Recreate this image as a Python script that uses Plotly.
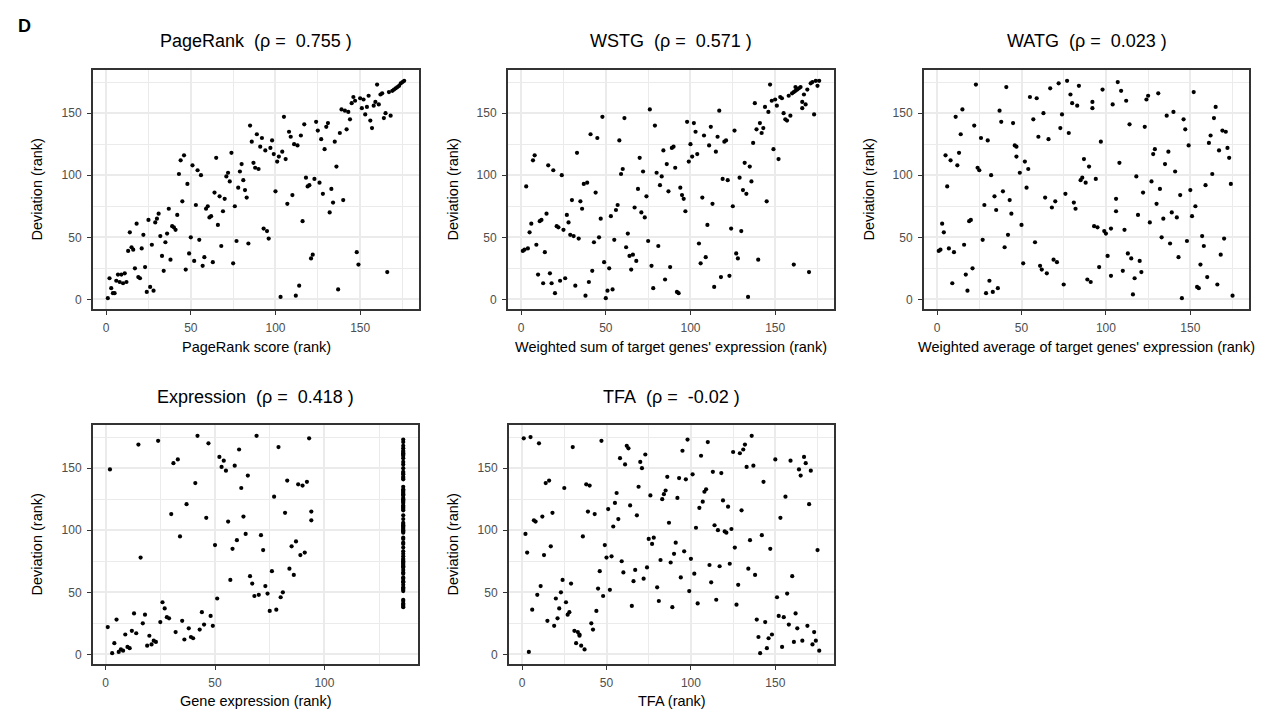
import plotly.graph_objects as go

# ---------------- data (ranks) ----------------
pagerank_x = [1,2,3,4,5,6,7,8,9,10,11,12,13,14,15,16,17,18,19,20,21,22,23,24,25,26,27,28,29,30,31,32,33,34,35,36,37,38,39,40,41,42,43,44,45,46,47,48,49,50,51,52,53,54,55,56,57,58,59,60,61,62,63,64,65,66,67,68,69,70,71,72,73,74,75,76,77,78,79,80,81,82,83,84,85,86,87,88,89,90,91,92,93,94,95,96,97,98,99,100,101,102,103,104,105,106,107,108,109,110,111,112,113,114,115,116,117,118,119,120,121,122,123,124,125,126,127,128,129,130,131,132,133,134,135,136,137,138,139,140,141,142,143,144,145,146,147,148,149,150,151,152,153,154,155,156,157,158,159,160,161,162,163,164,165,166,167,168,169,170,171,172,173,174,175,176]
pagerank_y = [1,17,9,5,5,15,20,14,20,13,21,14,39,54,42,40,25,61,18,17,41,52,26,6,64,10,44,7,62,65,69,51,35,23,46,53,73,32,59,58,56,68,101,112,79,116,24,93,37,50,108,31,76,104,48,100,27,34,73,75,66,67,30,86,114,60,83,43,71,81,99,102,95,118,29,75,47,90,103,109,96,88,82,45,140,127,110,106,133,105,123,130,57,120,55,49,122,128,117,87,111,115,2,119,147,113,77,135,131,84,125,3,124,11,132,63,141,98,91,92,33,36,97,143,136,94,129,85,121,139,142,70,89,78,127,107,8,134,153,80,152,137,151,145,158,163,160,38,28,162,154,161,149,155,164,144,138,156,159,173,157,165,166,146,150,22,167,148,168,169,170,171,172,174,175,176]

wstg_x = [1,2,3,4,5,6,7,8,9,10,11,12,13,14,15,16,17,18,19,20,21,22,23,24,25,26,27,28,29,30,31,32,33,34,35,36,37,38,39,40,41,42,43,44,45,46,47,48,49,50,51,52,53,54,55,56,57,58,59,60,61,62,63,64,65,66,67,68,69,70,71,72,73,74,75,76,77,78,79,80,81,82,83,84,85,86,87,88,89,90,91,92,93,94,95,96,97,98,99,100,101,102,103,104,105,106,107,108,109,110,111,112,113,114,115,116,117,118,119,120,121,122,123,124,125,126,127,128,129,130,131,132,133,134,135,136,137,138,139,140,141,142,143,144,145,146,147,148,149,150,151,152,153,154,155,156,157,158,159,160,161,162,161,162,163,164,165,166,166,167,168,169,170,171,172,173,174,175,176]
wstg_y = [39,40,91,41,54,61,112,116,44,20,63,64,13,38,69,108,21,13,104,5,59,58,15,100,56,17,68,62,52,80,51,11,118,49,79,73,93,3,94,14,133,23,46,86,130,50,65,147,30,1,7,25,67,8,48,72,76,128,101,105,146,42,53,35,24,36,74,31,89,114,70,103,66,83,47,153,27,9,140,102,43,92,99,120,16,109,87,26,122,123,106,6,5,90,84,81,71,143,111,125,115,142,135,117,45,29,82,132,34,60,124,139,77,10,119,131,152,18,97,127,128,96,19,57,75,136,37,33,98,55,88,110,85,2,107,95,126,158,137,32,142,134,138,155,79,151,173,160,121,161,156,113,163,162,150,145,144,164,148,166,167,168,28,171,169,170,171,159,154,165,157,169,22,174,175,149,176,172,176]

watg_x = [1,2,3,4,5,6,7,8,9,10,11,12,13,14,15,16,17,18,19,20,21,22,23,24,25,26,27,28,29,30,31,32,33,34,35,36,37,38,39,40,41,42,43,44,45,46,47,47,49,50,51,52,53,54,55,57,58,59,60,61,62,63,64,65,66,67,68,69,70,71,72,73,74,75,76,77,78,79,80,81,82,83,84,85,86,87,88,89,90,91,92,92,93,95,94,96,97,98,99,100,101,103,103,104,106,106,107,108,109,110,111,112,113,114,115,116,117,118,119,120,121,122,123,124,125,126,127,128,129,130,131,132,133,134,135,136,137,138,139,140,141,142,143,144,145,146,147,148,149,150,151,152,153,154,155,156,157,158,159,160,161,162,163,164,165,166,167,168,169,170,171,172,173,174,175]
watg_y = [39,40,61,54,116,91,41,112,13,38,147,108,118,133,153,44,20,7,63,64,25,140,173,106,104,130,48,76,5,128,15,100,6,83,72,9,152,143,87,42,171,52,80,69,142,124,123,115,102,60,29,111,90,105,163,145,46,162,131,27,24,150,82,21,129,170,74,32,79,30,174,138,149,12,85,176,134,165,158,78,73,156,172,96,98,113,94,16,107,14,154,159,59,58,97,26,127,169,55,53,35,57,19,157,81,71,175,110,168,23,56,160,37,141,33,4,17,99,68,31,22,86,139,161,164,62,95,117,121,77,166,89,50,65,109,148,119,45,70,151,103,66,34,84,1,145,137,47,124,88,67,167,75,10,9,28,51,43,92,18,126,132,101,146,155,12,120,36,136,49,135,122,114,93,3]

expr_x = [1,2,3,4,5,6,7,8,9,10,11,12,13,14,15,16,17,18,19,20,21,22,23,24,25,26,27,28,29,30,31,32,33,34,35,36,37,38,39,40,41,42,43,44,45,46,47,48,49,50,51,52,53,54,55,56,57,58,59,60,61,62,63,64,65,66,67,68,69,70,71,72,73,74,75,76,77,78,79,80,81,82,83,84,85,86,87,88,89,90,91,92,93,94,94]
expr_y = [22,149,1,9,28,2,4,3,16,6,5,19,33,17,169,78,25,32,7,15,8,11,10,172,26,42,37,30,29,113,154,18,157,95,27,12,121,21,14,13,138,176,20,34,24,110,170,31,23,88,45,159,151,156,148,107,60,85,152,92,165,134,111,97,144,63,57,47,176,48,96,84,55,49,35,67,127,36,167,46,50,114,140,69,87,64,91,137,80,136,82,139,174,115,108]
# genes tied at the top expression rank (vertical column)
expr_tied_x = 136
expr_tied_y = [38,39,40,41,43,44,51,52,53,54,56,58,59,61,62,65,66,68,70,71,72,73,74,75,76,77,79,81,83,86,89,90,93,94,98,99,100,101,102,103,104,105,106,109,112,116,117,118,119,120,122,123,124,125,126,128,129,130,131,132,133,135,141,142,143,145,146,147,150,153,155,158,160,161,162,163,164,166,168,171,173]

tfa_x = [1,2,3,4,5,6,7,8,9,10,11,12,13,14,15,16,17,18,19,20,21,22,23,24,25,26,27,28,29,30,31,32,33,34,34,35,36,37,38,39,40,41,42,43,44,45,46,47,48,49,50,51,52,53,54,55,56,57,58,59,60,61,62,63,64,65,66,67,68,69,70,71,72,73,74,75,76,77,78,80,81,82,83,84,85,86,87,88,89,90,91,92,93,94,95,96,97,98,99,100,101,102,103,104,105,106,107,108,109,110,111,112,113,114,115,116,117,118,119,120,121,122,123,124,125,126,127,128,129,130,131,132,133,134,135,136,137,138,139,140,141,142,143,144,145,146,147,148,150,151,152,153,154,155,156,157,158,159,160,161,162,163,164,165,166,167,168,169,170,171,172,173,174,175,176]
tfa_y = [174,97,82,2,175,36,108,107,48,170,55,111,80,138,27,140,87,114,23,45,29,37,50,60,134,42,32,34,57,167,19,9,18,16,15,7,95,4,137,115,136,25,20,113,35,53,67,172,47,88,78,117,52,79,103,122,130,109,158,75,66,153,168,166,120,39,59,68,112,135,155,150,61,161,70,93,128,89,94,54,43,76,125,129,132,143,106,74,38,81,90,126,142,62,164,83,141,173,51,77,145,65,102,41,118,160,123,131,133,171,72,58,147,104,44,100,71,146,124,99,98,119,73,101,163,86,40,56,162,116,165,169,151,69,92,176,152,64,28,14,1,96,139,26,5,13,85,16,157,46,31,110,6,30,127,49,24,156,63,10,33,21,149,144,11,159,154,23,121,148,8,18,11,84,3]

panels = [
    ("PageRank\u00a0\u00a0(\u03c1 =\u00a0\u00a00.755 )", "PageRank score (rank)", pagerank_x, pagerank_y),
    ("WSTG\u00a0\u00a0(\u03c1 =\u00a0\u00a00.571 )", "Weighted sum of target genes' expression (rank)", wstg_x, wstg_y),
    ("WATG\u00a0\u00a0(\u03c1 =\u00a0\u00a00.023 )", "Weighted average of target genes' expression (rank)", watg_x, watg_y),
    ("Expression\u00a0\u00a0(\u03c1 =\u00a0\u00a00.418 )", "Gene expression (rank)", expr_x + [expr_tied_x] * len(expr_tied_y), expr_y + expr_tied_y),
    ("TFA\u00a0\u00a0(\u03c1 =\u00a0\u00a0-0.02 )", "TFA (rank)", tfa_x, tfa_y),
]

# ---------------- layout (pixel boxes) ----------------
W, H = 1265, 710
boxes = [  # left, right, top, bottom in px
    (85, 411, 62, 301),
    (500, 826, 62, 301),
    (916, 1241, 62, 301),
    (85, 410, 417, 656),
    (501, 826, 417, 656),
]
xranges = [[-7.75, 184.75], [-7.75, 184.75], [-7.75, 184.75], [-5.75, 142.75], [-7.75, 184.75]]
yrange = [-7.75, 184.75]
ytitle_x = [28, 444, 860, 28, 444]
title_y = [33, 33, 33, 389, 389]
xtitle_y = [339, 339, 339, 693, 693]

FONT = "Liberation Sans, Arial, Helvetica, sans-serif"

fig = go.Figure()
annotations = []
layout = dict(
    width=W, height=H, margin=dict(l=0, r=0, t=0, b=0),
    paper_bgcolor="white", plot_bgcolor="white", showlegend=False,
    font=dict(family=FONT, color="black"),
)

def axis_common():
    return dict(
        dtick=50, tick0=0, showgrid=True, gridcolor="#ebebeb", gridwidth=1.8,
        minor=dict(dtick=25, tick0=0, showgrid=True, gridcolor="#ebebeb", gridwidth=0.9),
        showline=True, mirror=True, linecolor="#333333", linewidth=2,
        ticks="outside", ticklen=4, tickwidth=1.2, tickcolor="#333333",
        ticklabelstandoff=3,
        tickfont=dict(family=FONT, size=12, color="#4d4d4d"), zeroline=False,
        fixedrange=True,
    )

for i, ((title, xtitle, xs, ys), (l, r, t, b)) in enumerate(zip(panels, boxes)):
    n = "" if i == 0 else str(i + 1)
    fig.add_trace(go.Scatter(
        x=xs, y=ys, mode="markers", xaxis="x" + n, yaxis="y" + n,
        marker=dict(size=4.2, color="black", line=dict(width=0)),
        hoverinfo="x+y",
    ))
    xa = axis_common()
    xa.update(domain=[l / W, r / W], range=xranges[i], anchor="y" + n)
    ya = axis_common()
    ya.update(domain=[1 - b / H, 1 - t / H], range=yrange, anchor="x" + n)
    layout["xaxis" + n] = xa
    layout["yaxis" + n] = ya
    cx = (l + r) / 2 / W
    annotations.append(dict(text=title, x=cx, y=1 - title_y[i] / H, xref="paper", yref="paper",
                            showarrow=False, xanchor="center", yanchor="middle",
                            font=dict(family=FONT, size=18, color="black")))
    annotations.append(dict(text=xtitle, x=cx, y=1 - xtitle_y[i] / H, xref="paper", yref="paper",
                            showarrow=False, xanchor="center", yanchor="middle",
                            font=dict(family=FONT, size=14.5, color="black")))
    annotations.append(dict(text="Deviation (rank)", x=ytitle_x[i] / W, y=1 - (t + b) / 2 / H,
                            xref="paper", yref="paper", textangle=-90,
                            showarrow=False, xanchor="center", yanchor="middle",
                            font=dict(family=FONT, size=14.5, color="black")))

annotations.append(dict(text="<b>D</b>", x=16 / W, y=1 - 18 / H, xref="paper", yref="paper",
                        showarrow=False, xanchor="center", yanchor="middle",
                        font=dict(family=FONT, size=18, color="black")))
layout["annotations"] = annotations
fig.update_layout(**layout)
fig.write_html("out.html")
